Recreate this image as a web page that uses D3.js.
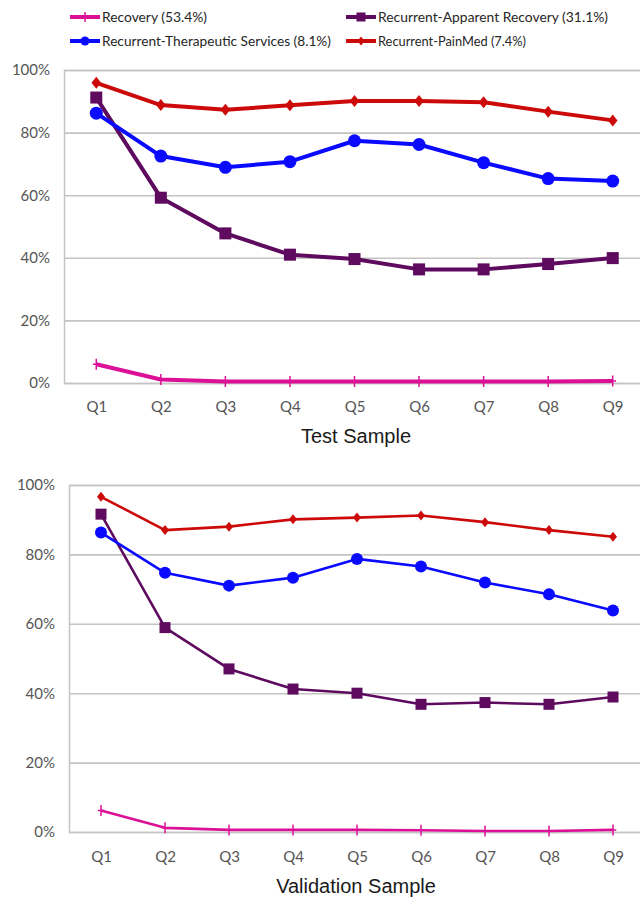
<!DOCTYPE html>
<html><head><meta charset="utf-8">
<script src="https://cdn.jsdelivr.net/npm/d3@7"></script>
<style>html,body{margin:0;padding:0;background:#fff;}svg{display:block;}</style>
</head><body>
<script>
const categories = ["Q1","Q2","Q3","Q4","Q5","Q6","Q7","Q8","Q9"];
const yTicks = [0,20,40,60,80,100];
const seriesNames = ["Recovery (53.4%)","Recurrent-Apparent Recovery (31.1%)","Recurrent-Therapeutic Services (8.1%)","Recurrent-PainMed (7.4%)"];
const seriesColors = ["#dc1096","#5e0a5e","#0a0aff","#cc0a0a"];
const seriesMarkers = ["plus","square","circle","diamond"];

const testRecovery    = [6.0, 1.1, 0.5, 0.5, 0.5, 0.5, 0.5, 0.5, 0.6];
const testApparent    = [91.2, 59.2, 47.8, 41.0, 39.6, 36.3, 36.3, 38.0, 39.9];
const testTherapeutic = [86.2, 72.5, 68.9, 70.7, 77.4, 76.2, 70.4, 65.3, 64.5];
const testPainMed     = [95.9, 88.8, 87.3, 88.7, 90.1, 90.1, 89.7, 86.7, 83.9];

const validRecovery    = [6.2, 1.2, 0.6, 0.6, 0.6, 0.5, 0.3, 0.3, 0.6];
const validApparent    = [91.6, 58.9, 47.0, 41.2, 40.0, 36.8, 37.3, 36.8, 38.9];
const validTherapeutic = [86.3, 74.7, 71.0, 73.3, 78.7, 76.5, 71.9, 68.5, 63.8];
const validPainMed     = [96.6, 87.0, 88.0, 90.1, 90.6, 91.2, 89.3, 87.0, 85.1];

const W = 640, H = 904;
const svg = d3.select("body").append("svg").attr("width", W).attr("height", H);

// Legend
const legendItems = [
  {i:0, x:70,  y:17, w:105},
  {i:1, x:346, y:17, w:230},
  {i:2, x:70,  y:41, w:229},
  {i:3, x:346, y:41, w:148}
];
function drawMarker(g, type, cx, cy, color, s) {
  if (type === "square") {
    g.append("rect").attr("x", cx - s/2).attr("y", cy - s/2).attr("width", s).attr("height", s).attr("fill", color);
  } else if (type === "circle") {
    g.append("circle").attr("cx", cx).attr("cy", cy).attr("r", s/2).attr("fill", color);
  } else if (type === "diamond") {
    const h = s/2;
    g.append("path").attr("d", `M${cx},${cy-h}L${cx+h*0.8},${cy}L${cx},${cy+h}L${cx-h*0.8},${cy}Z`).attr("fill", color);
  } else if (type === "plus") {
    const h = s/2;
    g.append("path").attr("d", `M${cx},${cy-h}V${cy+h}M${cx-h*0.6},${cy}H${cx+h*0.6}`).attr("stroke", color).attr("stroke-width", 1.5).attr("fill","none");
  }
}
const lg = svg.append("g");
legendItems.forEach(d => {
  const c = seriesColors[d.i];
  lg.append("line").attr("x1", d.x).attr("x2", d.x + 30).attr("y1", d.y).attr("y2", d.y)
    .attr("stroke", c).attr("stroke-width", 4);
  const msz = {plus:10, square:9, circle:9, diamond:9}[seriesMarkers[d.i]];
  drawMarker(lg, seriesMarkers[d.i], d.x + 15, d.y, c, msz);
  lg.append("text").attr("x", d.x + 32).attr("y", d.y).attr("dy", "0.35em")
    .attr("font-family", "Lato, 'Liberation Sans Narrow', sans-serif").attr("font-size", 13)
    .attr("fill", "#262626").attr("textLength", d.w).attr("lengthAdjust", "spacingAndGlyphs")
    .text(seriesNames[d.i]);
});

function drawChart(cfg) {
  const x = d3.scalePoint().domain(categories).range([cfg.left, cfg.right]).padding(0.5);
  const y = d3.scaleLinear().domain([0, 100]).range([cfg.bottom, cfg.top]);
  const g = svg.append("g");

  // gridlines / y axis
  const yAxis = d3.axisLeft(y).tickValues(yTicks).tickSize(-(cfg.right - cfg.left)).tickPadding(14)
    .tickFormat(d => d + "%");
  const ya = g.append("g").attr("transform", `translate(${cfg.left},0)`).call(yAxis);
  ya.select(".domain").attr("stroke", "#c4c4c4").attr("stroke-width", 1.5);
  ya.selectAll(".tick line").attr("stroke", "#c4c4c4").attr("stroke-width", 1.6);
  ya.selectAll(".tick text").attr("font-family", "Lato, sans-serif").attr("font-size", 15).attr("fill", "#555");

  // x axis labels
  const xAxis = d3.axisBottom(x).tickSize(0).tickPadding(0);
  const xa = g.append("g").attr("transform", `translate(0,${cfg.labelY})`).call(xAxis);
  xa.select(".domain").remove();
  xa.selectAll(".tick text").attr("font-family", "Lato, sans-serif").attr("font-size", 15).attr("fill", "#555")
    .attr("dy", "0.35em").attr("y", 0);

  // title
  g.append("text").attr("x", cfg.titleX).attr("y", cfg.titleY).attr("text-anchor", "middle").attr("dy", "0.35em")
    .attr("font-family", "'Liberation Sans', Arial, sans-serif").attr("font-size", 20).attr("fill", "#1a1a1a")
    .text(cfg.title);

  const line = d3.line().x((d, i) => x(categories[i])).y(d => y(d));
  cfg.series.forEach((vals, si) => {
    const c = seriesColors[si];
    g.append("path").datum(vals).attr("d", line).attr("fill", "none")
      .attr("stroke", c).attr("stroke-width", cfg.lw).attr("stroke-linejoin", "round");
    const mg = g.append("g");
    vals.forEach((v, i) => drawMarker(mg, seriesMarkers[si], x(categories[i]), y(v), c, cfg.msize[si]));
  });
}

drawChart({
  left: 64, right: 645, top: 70, bottom: 383, labelY: 407,
  title: "Test Sample", titleX: 356, titleY: 436, lw: 4,
  msize: [11, 12, 13, 12],
  series: [testRecovery, testApparent, testTherapeutic, testPainMed]
});
drawChart({
  left: 69, right: 645, top: 485, bottom: 832, labelY: 857,
  title: "Validation Sample", titleX: 356, titleY: 886, lw: 2.6,
  msize: [11, 11, 12, 10],
  series: [validRecovery, validApparent, validTherapeutic, validPainMed]
});
</script>
</body></html>
